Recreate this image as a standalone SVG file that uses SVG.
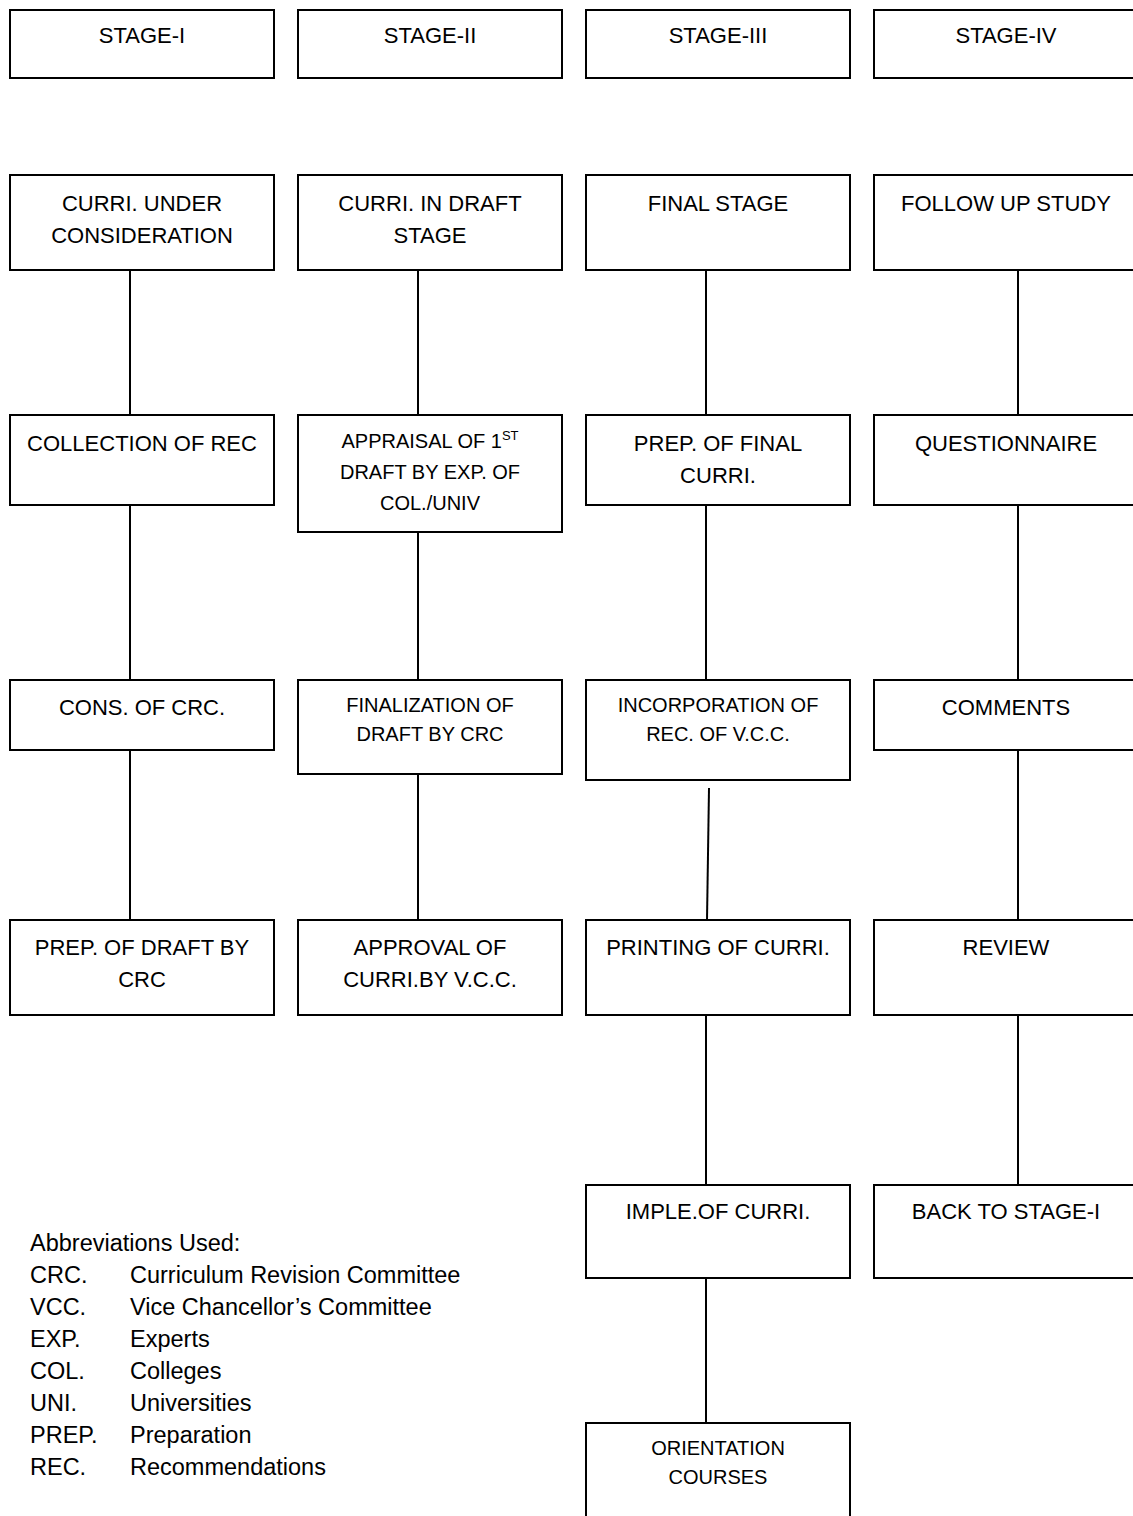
<svg xmlns="http://www.w3.org/2000/svg" width="1133" height="1516" viewBox="0 0 1133 1516">
<style>
.b{fill:#fff;stroke:#000;stroke-width:2}
.t{font-family:"Liberation Sans",Arial,sans-serif;font-size:22px;fill:#000;text-anchor:middle}
.s{font-size:20px}
.c line{stroke:#000;stroke-width:2}
.a{font-family:"Liberation Sans",Arial,sans-serif;font-size:23.5px;fill:#000}
</style>
<rect width="1133" height="1516" fill="#fff"/>
<g class="c" id="connectors">
<line x1="130" y1="270" x2="130" y2="415"/>
<line x1="130" y1="505" x2="130" y2="680"/>
<line x1="130" y1="750" x2="130" y2="920"/>
<line x1="418" y1="270" x2="418" y2="415"/>
<line x1="418" y1="532" x2="418" y2="680"/>
<line x1="418" y1="774" x2="418" y2="920"/>
<line x1="706" y1="270" x2="706" y2="415"/>
<line x1="706" y1="505" x2="706" y2="680"/>
<line x1="709" y1="788" x2="707" y2="920"/>
<line x1="706" y1="1015" x2="706" y2="1185"/>
<line x1="706" y1="1278" x2="706" y2="1423"/>
<line x1="1018" y1="270" x2="1018" y2="415"/>
<line x1="1018" y1="505" x2="1018" y2="680"/>
<line x1="1018" y1="750" x2="1018" y2="920"/>
<line x1="1018" y1="1015" x2="1018" y2="1185"/>
</g>
<g id="stage1"><rect class="b" x="10" y="10" width="264" height="68"/><text class="t" x="142" y="43">STAGE-I</text></g>
<g id="stage2"><rect class="b" x="298" y="10" width="264" height="68"/><text class="t" x="430" y="43">STAGE-II</text></g>
<g id="stage3"><rect class="b" x="586" y="10" width="264" height="68"/><text class="t" x="718" y="43">STAGE-III</text></g>
<g id="stage4"><rect class="b" x="874" y="10" width="264" height="68"/><text class="t" x="1006" y="43">STAGE-IV</text></g>

<g id="curri-under"><rect class="b" x="10" y="175" width="264" height="95"/><text class="t" x="142" y="211">CURRI. UNDER</text><text class="t" x="142" y="243">CONSIDERATION</text></g>
<g id="curri-draft"><rect class="b" x="298" y="175" width="264" height="95"/><text class="t" x="430" y="211">CURRI. IN DRAFT</text><text class="t" x="430" y="243">STAGE</text></g>
<g id="final-stage"><rect class="b" x="586" y="175" width="264" height="95"/><text class="t" x="718" y="211">FINAL STAGE</text></g>
<g id="follow-up"><rect class="b" x="874" y="175" width="264" height="95"/><text class="t" x="1006" y="211">FOLLOW UP STUDY</text></g>

<g id="collection"><rect class="b" x="10" y="415" width="264" height="90"/><text class="t" x="142" y="451">COLLECTION OF REC</text></g>
<g id="appraisal"><rect class="b" x="298" y="415" width="264" height="117"/><text class="t s" x="430" y="448">APPRAISAL OF 1<tspan font-size="13" dy="-8">ST</tspan></text><text class="t s" x="430" y="479">DRAFT BY EXP. OF</text><text class="t s" x="430" y="510">COL./UNIV</text></g>
<g id="prep-final"><rect class="b" x="586" y="415" width="264" height="90"/><text class="t" x="718" y="451">PREP. OF FINAL</text><text class="t" x="718" y="483">CURRI.</text></g>
<g id="questionnaire"><rect class="b" x="874" y="415" width="264" height="90"/><text class="t" x="1006" y="451">QUESTIONNAIRE</text></g>

<g id="cons-crc"><rect class="b" x="10" y="680" width="264" height="70"/><text class="t" x="142" y="715">CONS. OF CRC.</text></g>
<g id="finalization"><rect class="b" x="298" y="680" width="264" height="94"/><text class="t s" x="430" y="712">FINALIZATION OF</text><text class="t s" x="430" y="741">DRAFT BY CRC</text></g>
<g id="incorporation"><rect class="b" x="586" y="680" width="264" height="100"/><text class="t s" x="718" y="712">INCORPORATION OF</text><text class="t s" x="718" y="741">REC. OF V.C.C.</text></g>
<g id="comments"><rect class="b" x="874" y="680" width="264" height="70"/><text class="t" x="1006" y="715">COMMENTS</text></g>

<g id="prep-draft"><rect class="b" x="10" y="920" width="264" height="95"/><text class="t" x="142" y="955">PREP. OF DRAFT BY</text><text class="t" x="142" y="987">CRC</text></g>
<g id="approval"><rect class="b" x="298" y="920" width="264" height="95"/><text class="t" x="430" y="955">APPROVAL OF</text><text class="t" x="430" y="987">CURRI.BY V.C.C.</text></g>
<g id="printing"><rect class="b" x="586" y="920" width="264" height="95"/><text class="t" x="718" y="955">PRINTING OF CURRI.</text></g>
<g id="review"><rect class="b" x="874" y="920" width="264" height="95"/><text class="t" x="1006" y="955">REVIEW</text></g>

<g id="imple"><rect class="b" x="586" y="1185" width="264" height="93"/><text class="t" x="718" y="1219">IMPLE.OF CURRI.</text></g>
<g id="back"><rect class="b" x="874" y="1185" width="264" height="93"/><text class="t" x="1006" y="1219">BACK TO STAGE-I</text></g>

<g id="orientation"><rect class="b" x="586" y="1423" width="264" height="120"/><text class="t s" x="718" y="1455">ORIENTATION</text><text class="t s" x="718" y="1484">COURSES</text></g>

<g id="abbreviations" class="a">
<text x="30" y="1251">Abbreviations Used:</text>
<text x="30" y="1283">CRC.</text><text x="130" y="1283">Curriculum Revision Committee</text>
<text x="30" y="1315">VCC.</text><text x="130" y="1315">Vice Chancellor’s Committee</text>
<text x="30" y="1347">EXP.</text><text x="130" y="1347">Experts</text>
<text x="30" y="1379">COL.</text><text x="130" y="1379">Colleges</text>
<text x="30" y="1411">UNI.</text><text x="130" y="1411">Universities</text>
<text x="30" y="1443">PREP.</text><text x="130" y="1443">Preparation</text>
<text x="30" y="1475">REC.</text><text x="130" y="1475">Recommendations</text>
</g>
</svg>
